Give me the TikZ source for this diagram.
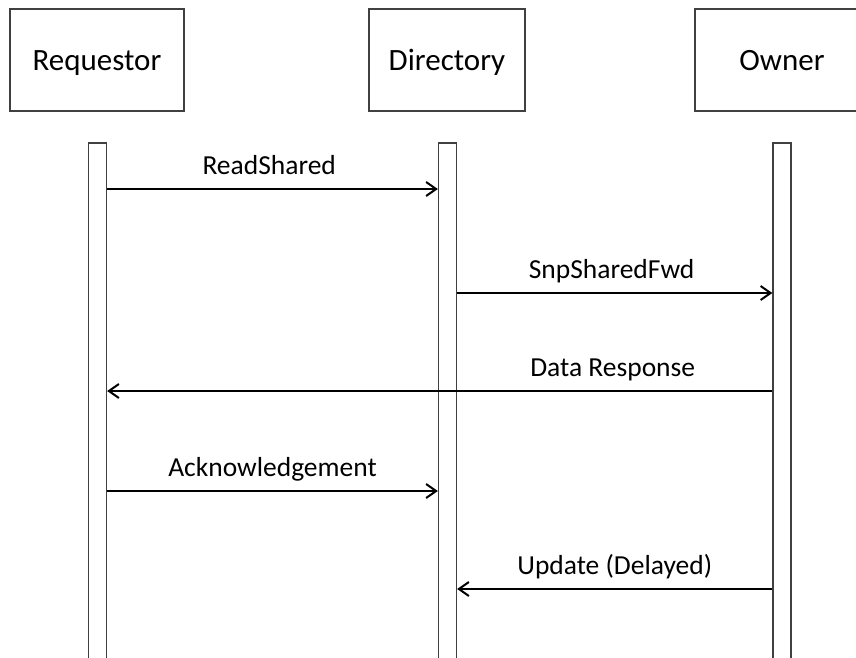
\documentclass[tikz,border=0pt]{standalone}
\usepackage{fontspec}
\setmainfont{Carlito}
\usetikzlibrary{arrows.meta}
\definecolor{edge}{HTML}{404040}
\begin{document}
\begin{tikzpicture}[x=1pt,y=-1pt,
  actor/.style={draw=edge, line width=1.3pt, minimum height=102pt, inner sep=0pt,
    text height=20pt, text depth=0pt, font=\fontsize{31}{37}\selectfont},
  lifeline/.style={draw=edge, line width=1.3pt, minimum width=18pt, minimum height=517pt, inner sep=0pt},
  msg/.style={line width=2pt, -{Straight Barb[length=10pt,width=14pt]}},
  lbl/.style={anchor=base, yshift=15pt, inner sep=0pt, font=\fontsize{27.5}{33}\selectfont}]
\useasboundingbox (0,0) rectangle (856,657);
\clip (0,0) rectangle (856,657);

% participants
\node[actor, minimum width=174pt] (req) at (97,60) {Requestor};
\node[actor, minimum width=156pt] (dir) at (447,60) {Directory};
\node[actor, minimum width=174pt] (own) at (782,60) {Owner};

% activation bars
\node[lifeline] (rbar) at (97.5,401.5) {};
\node[lifeline] (dbar) at (447.5,401.5) {};
\node[lifeline] (obar) at (782,401.5) {};

% message rows
\coordinate (m1) at (0,189);
\coordinate (m2) at (0,293);
\coordinate (m3) at (0,391);
\coordinate (m4) at (0,491);
\coordinate (m5) at (0,589);

% messages
\draw[msg] (rbar.east |- m1) -- node[lbl, pos=0.49] {ReadShared} (dbar.west |- m1);
\draw[msg] (dbar.east |- m2) -- node[lbl, pos=0.49] {SnpSharedFwd} (obar.west |- m2);
\draw[msg] (obar.west |- m3) -- node[lbl, pos=0.24] {Data Response} (rbar.east |- m3);
\draw[msg] (rbar.east |- m4) -- node[lbl, pos=0.5] {Acknowledgement} (dbar.west |- m4);
\draw[msg] (obar.west |- m5) -- node[lbl, pos=0.50] {Update (Delayed)} (dbar.east |- m5);
\end{tikzpicture}
\end{document}
